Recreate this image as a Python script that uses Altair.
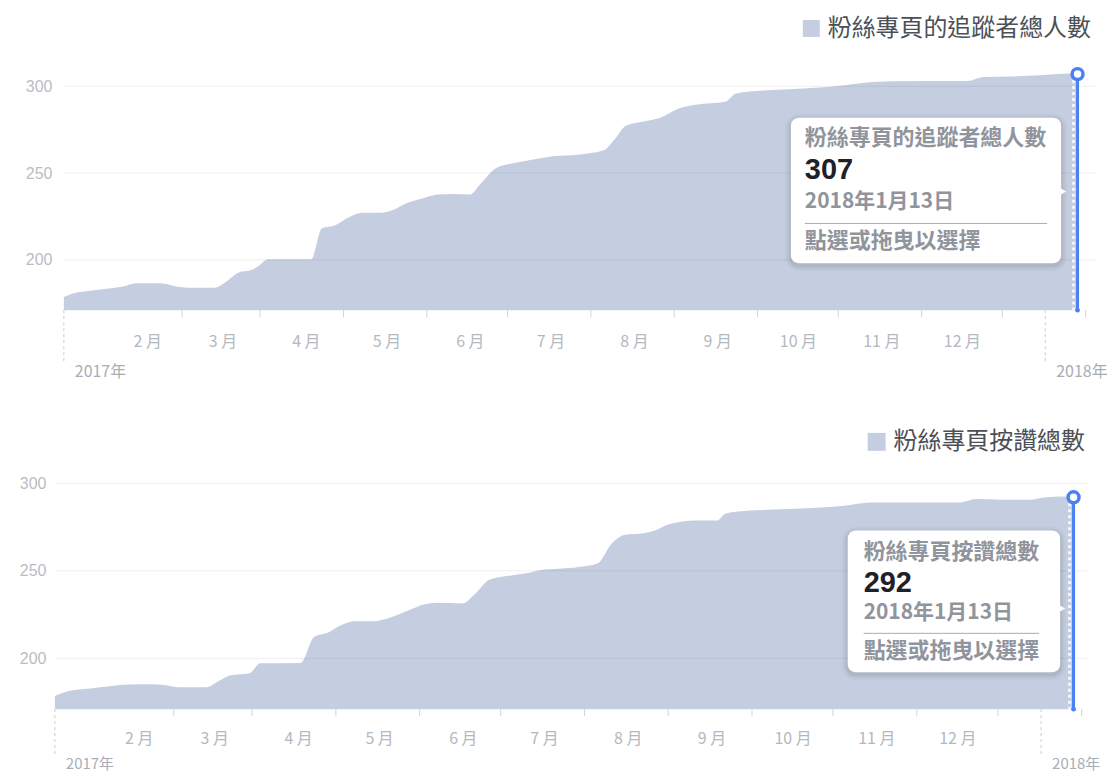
import altair as alt
import pandas as pd

# ---------------- data ----------------
follow_dates = ["2017-01-01", "2017-01-05", "2017-01-10", "2017-01-16", "2017-01-23", "2017-01-28",
                "2017-02-06", "2017-02-12", "2017-02-16", "2017-02-26", "2017-03-02", "2017-03-07",
                "2017-03-12", "2017-03-14", "2017-03-18", "2017-04-03", "2017-04-07", "2017-04-12",
                "2017-04-17", "2017-04-22", "2017-04-29", "2017-05-03", "2017-05-08", "2017-05-14",
                "2017-05-20", "2017-05-26", "2017-06-01", "2017-06-05", "2017-06-11", "2017-06-19",
                "2017-06-26", "2017-07-02", "2017-07-11", "2017-07-21", "2017-07-25", "2017-07-29",
                "2017-08-05", "2017-08-11", "2017-08-17", "2017-08-24", "2017-09-04", "2017-09-08",
                "2017-09-18", "2017-10-03", "2017-10-15", "2017-10-25", "2017-11-05", "2017-12-03",
                "2017-12-09", "2017-12-19", "2017-12-30", "2018-01-10", "2018-01-13"]
follow_values = [178.6, 180.9, 182, 183.2, 184.7, 186.6,
                 186.6, 184.7, 184, 184, 187, 192.7,
                 194.3, 196, 200.4, 200.4, 218.2, 220,
                 224.5, 227.2, 227.2, 228.4, 232.3, 235.2,
                 237.6, 238, 237.6, 243.8, 253, 256.2,
                 258.2, 259.7, 260.6, 263.3, 269.7, 277.3,
                 279.8, 282, 286.8, 289.3, 291, 295.8,
                 297.5, 298.7, 300, 301.9, 302.9, 303,
                 305.3, 305.6, 306.3, 307.3, 307]

like_dates = ["2017-01-01", "2017-01-07", "2017-01-15", "2017-01-22", "2017-01-28", "2017-02-06",
              "2017-02-11", "2017-02-16", "2017-02-26", "2017-03-03", "2017-03-07", "2017-03-14",
              "2017-03-18", "2017-04-02", "2017-04-07", "2017-04-12", "2017-04-17", "2017-04-22",
              "2017-04-29", "2017-05-04", "2017-05-12", "2017-05-18", "2017-05-23", "2017-06-01",
              "2017-06-05", "2017-06-11", "2017-06-19", "2017-06-25", "2017-07-01", "2017-07-08",
              "2017-07-16", "2017-07-21", "2017-07-26", "2017-07-31", "2017-08-07", "2017-08-11",
              "2017-08-16", "2017-08-26", "2017-09-03", "2017-09-06", "2017-09-10", "2017-09-29",
              "2017-10-20", "2017-10-30", "2017-12-02", "2017-12-08", "2017-12-18", "2017-12-28",
              "2018-01-02", "2018-01-09", "2018-01-13"]
like_values = [178.5, 181.6, 182.9, 184.2, 185, 185.2,
               184.6, 183.5, 183.5, 187.3, 190.3, 191.5,
               197.2, 197.4, 212.3, 214.6, 219, 221.2,
               221.2, 222.8, 227.5, 230.9, 231.7, 231.4,
               236, 245, 247.4, 248.7, 250.7, 251.3,
               252.6, 254.4, 265.5, 270.6, 271.5, 273,
               276.5, 278.7, 278.7, 282.5, 283.8, 285.3,
               287.2, 289.1, 289.1, 291, 290.6, 290.6,
               291.9, 292.5, 292]

month_numbers = [2, 3, 4, 5, 6, 7, 8, 9, 10, 11, 12]
tick_dates = ["2017-02-14", "2017-03-15", "2017-04-15", "2017-05-16", "2017-06-15", "2017-07-16",
              "2017-08-16", "2017-09-16", "2017-10-16", "2017-11-16", "2017-12-16", "2018-01-16"]
year_dates = ["2017-01-01", "2018-01-01"]
year_labels = ["2017年", "2018年"]
y_ticks = [200, 250, 300]

follow_name = "粉絲專頁的追蹤者總人數"
like_name = "粉絲專頁按讚總數"
date_text = "2018年1月13日"
hint_text = "點選或拖曳以選擇"

# ---------------- style ----------------
CJK = "Noto Sans CJK TC"
AREA = "#c5cee0"
BLUE = "#4a80f0"
GRAY_TXT = "#90949c"
Y_MIN, Y_MAX = 171, 310

# The top panel's plot frame starts 9px left of its data (extra lead-in before 1 Jan),
# so both panels share the same frame origin while the top data sits 9px further right.
top_cfg = dict(W=1043, H=242, xstart=alt.DateTime(year=2016, month=12, date=28, hours=16),
               xend=alt.DateTime(year=2018, month=1, date=19, hours=12), lead=9, ypad=3,
               month_pad=23, year_y=62, year_fs=16, dash_len=51,
               sq=(750, 767, -49, -32), leg=(775, -40),
               box=(738, 1009, 49, 195), tx=752, title_y=69, val_y=101, date_y=134,
               div_y=155, div_x2=995, hint_y=173, arrow=(1010, 123))
bot_cfg = dict(W=1035, H=244, xstart=alt.DateTime(year=2017, month=1, date=1),
               xend=alt.DateTime(year=2018, month=1, date=18), lead=0, ypad=9,
               month_pad=21, year_y=55, year_fs=15, dash_len=46,
               sq=(815, 833, -33, -15), leg=(841, -24),
               box=(795, 1008, 65, 207), tx=811, title_y=86, val_y=118, date_y=148,
               div_y=168, div_x2=987, hint_y=186, arrow=(1009, 143))


def panel(dates, values, name, c):
    W, H = c["W"], c["H"]
    df = pd.DataFrame({"date": pd.to_datetime(dates), "value": values})
    last = df.iloc[[-1]].reset_index(drop=True)
    last["label"] = last["value"].round().astype(int).astype(str)
    one = pd.DataFrame({"k": [0]})

    xs = alt.Scale(domain=[c["xstart"], c["xend"]], nice=False)
    x_axis = alt.Axis(values=[alt.DateTime(year=2017, month=m, date=1) for m in month_numbers],
                      labelExpr="(month(datum.value)+1) + ' 月'", ticks=False, domain=False,
                      grid=False, labelFont=CJK, labelFontSize=16, labelColor="#b4b8bf",
                      labelPadding=c["month_pad"], labelFlush=False, labelOverlap=False)
    X = alt.X("date:T", scale=xs, axis=x_axis, title=None)
    ys = alt.Scale(domain=[Y_MIN, Y_MAX], nice=False, zero=False)
    y_axis = alt.Axis(values=y_ticks, grid=False, domain=False, ticks=False,
                      labelFont="Liberation Sans", labelFontSize=16, labelColor="#b9bdc4",
                      labelPadding=c["ypad"])
    Y = alt.Y("value:Q", scale=ys, axis=y_axis, title=None)

    area = alt.Chart(df).mark_area(color=AREA, interpolate="monotone").encode(
        x=X, y=Y, y2=alt.datum(Y_MIN))

    grid = alt.Chart(pd.DataFrame({"value": y_ticks})).mark_rule(
        color="#000000", opacity=0.07, strokeWidth=1).encode(
        y=Y, x=alt.value(c["lead"]), x2=alt.value(W))

    ticks = alt.Chart(pd.DataFrame({"date": pd.to_datetime(tick_dates)})).mark_rule(
        color="#d0d3d8", strokeWidth=1).encode(x=X, y=alt.value(H), y2=alt.value(H + 7))

    ydf = pd.DataFrame({"date": pd.to_datetime(year_dates), "label": year_labels})
    ydash = alt.Chart(ydf).mark_rule(color="#c9ccd1", strokeDash=[3, 3], strokeWidth=1).encode(
        x=X, y=alt.value(H), y2=alt.value(H + c["dash_len"]))
    ytext = alt.Chart(ydf).mark_text(align="left", baseline="middle", dx=11, font=CJK,
                                     fontSize=c["year_fs"], color="#a9adb4").encode(
        x=X, y=alt.value(H + c["year_y"]), text="label:N")

    hatch = alt.Chart(last).mark_rule(color="white", strokeWidth=3, strokeDash=[3, 3],
                                      opacity=0.8, xOffset=-4).encode(
        x=X, y=Y, y2=alt.datum(Y_MIN))
    vline = alt.Chart(last).mark_rule(color=BLUE, strokeWidth=3).encode(
        x=X, y=Y, y2=alt.datum(Y_MIN))
    dot = alt.Chart(last).mark_point(filled=True, color=BLUE, size=22, opacity=1).encode(
        x=X, y=alt.datum(Y_MIN))
    circ = alt.Chart(last).mark_point(filled=True, fill="white", stroke=BLUE, strokeWidth=3.5,
                                      size=120, opacity=1).encode(x=X, y=Y)

    bx1, bx2, by1, by2 = c["box"]
    shadows = []
    for grow, op in [(6, 0.025), (4, 0.035), (2, 0.05)]:
        shadows.append(alt.Chart(one).mark_rect(color="#000000", opacity=op,
                                                cornerRadius=8 + grow).encode(
            x=alt.value(bx1 - grow), x2=alt.value(bx2 + grow),
            y=alt.value(by1 - grow + 2), y2=alt.value(by2 + grow + 2)))
    box = alt.Chart(one).mark_rect(color="white", cornerRadius=8).encode(
        x=alt.value(bx1), x2=alt.value(bx2), y=alt.value(by1), y2=alt.value(by2))
    arrow = alt.Chart(one).mark_point(shape="triangle-right", filled=True, color="white",
                                      size=90, opacity=1).encode(
        x=alt.value(c["arrow"][0]), y=alt.value(c["arrow"][1]))
    divider = alt.Chart(one).mark_rule(color="#a8acb3", strokeWidth=1).encode(
        x=alt.value(c["tx"]), x2=alt.value(c["div_x2"]), y=alt.value(c["div_y"]))

    def txt(text, y, size, color, weight="bold"):
        return alt.Chart(one).mark_text(text=text, align="left", baseline="middle", font=CJK,
                                        fontSize=size, fontWeight=weight, color=color).encode(
            x=alt.value(c["tx"]), y=alt.value(y))

    t_title = txt(name, c["title_y"], 22, GRAY_TXT)
    t_val = alt.Chart(last).mark_text(align="left", baseline="middle", font="Liberation Sans",
                                      fontSize=29, fontWeight="bold", color="#1d2129").encode(
        x=alt.value(c["tx"]), y=alt.value(c["val_y"]), text="label:N")
    t_date = txt(date_text, c["date_y"], 21, GRAY_TXT)
    t_hint = txt(hint_text, c["hint_y"], 22, GRAY_TXT)

    sx1, sx2, sy1, sy2 = c["sq"]
    lsq = alt.Chart(one).mark_rect(color=AREA).encode(
        x=alt.value(sx1), x2=alt.value(sx2), y=alt.value(sy1), y2=alt.value(sy2))
    ltxt = alt.Chart(one).mark_text(text=name, align="left", baseline="middle", font=CJK,
                                    fontSize=24, color="#4b4f56").encode(
        x=alt.value(c["leg"][0]), y=alt.value(c["leg"][1]))

    return alt.layer(area, grid, ticks, ydash, ytext, hatch, vline, dot, circ,
                     *shadows, box, arrow, divider, t_title, t_val, t_date, t_hint,
                     lsq, ltxt).properties(width=W, height=H)


top = panel(follow_dates, follow_values, follow_name, top_cfg)
bottom = panel(like_dates, like_values, like_name, bot_cfg)

chart = alt.vconcat(top, bottom, spacing=50).properties(
    padding={"left": 11, "top": 8, "right": 0, "bottom": 0},
    background="white",
).configure_view(stroke=None)

chart.save("out.html", embed_options={"renderer": "svg", "actions": False})
